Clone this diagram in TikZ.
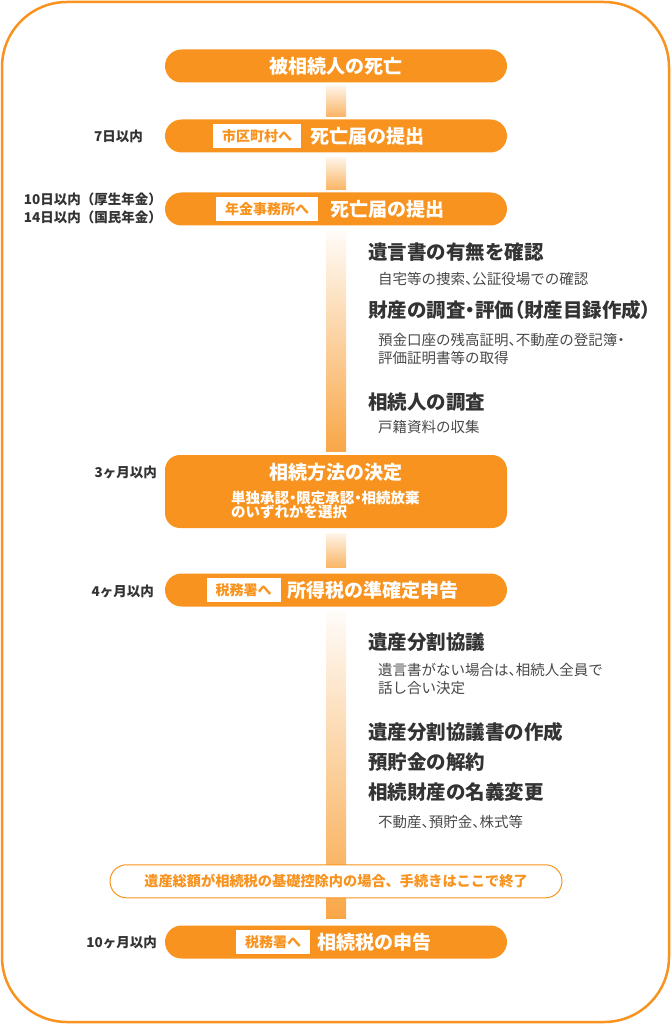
\documentclass[tikz,border=0pt]{standalone}
\usepackage{fontspec}
\setmainfont{Noto Sans CJK JP}
\newfontfamily\propfont[RawFeature=+palt]{Noto Sans CJK JP}
\newcommand{\halfp}[1]{{\propfont #1}}
\usetikzlibrary{positioning,calc}
\definecolor{lorange}{RGB}{247,147,30}
\definecolor{dgray}{RGB}{51,51,51}
\definecolor{mgray}{RGB}{72,72,72}
\tikzstyle{pill} = [rectangle, fill=lorange, text=white, inner sep=0pt,
  minimum width=342pt, minimum height=33pt, rounded corners=16.5pt,
  font=\bfseries\fontsize{19}{22}\selectfont]
\tikzstyle{tag} = [rectangle, fill=white, text=lorange, inner xsep=9pt,
  inner ysep=0pt, minimum height=24pt, font=\bfseries\fontsize{14}{15}\selectfont]
\tikzstyle{pilltext} = [text=white, inner sep=0pt, font=\bfseries\fontsize{19}{22}\selectfont]
\tikzstyle{due} = [anchor=east, text=dgray, inner sep=0pt, align=right,
  font=\bfseries\fontsize{13.5}{18}\selectfont]
\tikzstyle{heading} = [anchor=west, text=dgray, inner sep=0pt,
  font=\bfseries\fontsize{19.5}{22}\selectfont]
\tikzstyle{detail} = [anchor=west, text=mgray, inner sep=0pt, align=left,
  font=\fontsize{14.5}{18}\selectfont]
\tikzstyle{shortbar} = [top color=lorange!10, bottom color=lorange!68]
\tikzstyle{longbar} = [top color=lorange!3, bottom color=lorange!82]

\begin{document}
\begin{tikzpicture}[x=1pt,y=-1pt]

  \useasboundingbox (0,0) rectangle (671,1024);
  \draw [lorange, line width=2.5pt, rounded corners=65pt] (2,2) rectangle (669,1022);

  %%%%%%%%%%%%%%%%%%%%%%%%%%%%%%%%%%%%%%%%%%%%%%%%%%%%%%%%%%%%%%
  %                    DEATH AND NOTICES                       %
  %%%%%%%%%%%%%%%%%%%%%%%%%%%%%%%%%%%%%%%%%%%%%%%%%%%%%%%%%%%%%%

  \node [pill] (death) at (336,66) {被相続人の死亡};

  \node [pill] (city-notice) at (336,136) {};
  \node [tag] (city-notice-tag) at (257,136) {市区町村へ};
  \node [pilltext, right = 9pt of city-notice-tag] (city-notice-text) {死亡届の提出};
  \node [due] (city-notice-due) at (143,136) {7日以内};

  \node [pill] (pension-notice) at (336,209) {};
  \node [tag] (pension-notice-tag) at (267,209) {年金事務所へ};
  \node [pilltext, right = 12pt of pension-notice-tag] (pension-notice-text) {死亡届の提出};
  \node [due] (pension-notice-due) at (162,208) {10日以内（厚生年金）\\14日以内（国民年金）};

  %%%%%%%%%%%%%%%%%%%%%%%%%%%%%%%%%%%%%%%%%%%%%%%%%%%%%%%%%%%%%%
  %                    INVESTIGATION                           %
  %%%%%%%%%%%%%%%%%%%%%%%%%%%%%%%%%%%%%%%%%%%%%%%%%%%%%%%%%%%%%%

  \node [heading] (will-check) at (368,252) {遺言書の有無を確認};
  \node [detail] (will-check-detail) at (378,279) {自宅等の捜索\halfp{、}公証役場での確認};
  \node [heading] (asset-check) at (368,310) {財産の調査\halfp{・}評価\halfp{（}財産目録作成\halfp{）}};
  \node [detail] (asset-check-detail) at (378,349) {預金口座の残高証明\halfp{、}不動産の登記簿\halfp{・}\\評価証明書等の取得};
  \node [heading] (heir-check) at (368,402) {相続人の調査};
  \node [detail] (heir-check-detail) at (378,427) {戸籍資料の収集};

  %%%%%%%%%%%%%%%%%%%%%%%%%%%%%%%%%%%%%%%%%%%%%%%%%%%%%%%%%%%%%%
  %                    DECISION AND INCOME TAX                 %
  %%%%%%%%%%%%%%%%%%%%%%%%%%%%%%%%%%%%%%%%%%%%%%%%%%%%%%%%%%%%%%

  \node [pill, minimum height=73pt, rounded corners=15pt] (decision) at (336,491.5) {};
  \node [pilltext] (decision-text) at (336,472) {相続方法の決定};
  \node [anchor=west, text=white, inner sep=0pt, align=left,
    font=\bfseries\fontsize{14.5}{14.5}\selectfont] (decision-detail) at (231,505)
    {単独承認\halfp{・}限定承認\halfp{・}相続放棄\\のいずれかを選択};
  \node [due] (decision-due) at (157,472) {3ヶ月以内};

  \node [pill] (income-tax) at (336,590) {};
  \node [tag] (income-tax-tag) at (243.5,590) {税務署へ};
  \node [pilltext, right = 7pt of income-tax-tag] (income-tax-text) {所得税の準確定申告};
  \node [due] (income-tax-due) at (154,591) {4ヶ月以内};

  %%%%%%%%%%%%%%%%%%%%%%%%%%%%%%%%%%%%%%%%%%%%%%%%%%%%%%%%%%%%%%
  %                    DIVISION                                %
  %%%%%%%%%%%%%%%%%%%%%%%%%%%%%%%%%%%%%%%%%%%%%%%%%%%%%%%%%%%%%%

  \node [heading] (division) at (368,642) {遺産分割協議};
  \node [detail] (division-detail) at (378,679) {遺言書がない場合は\halfp{、}相続人全員で\\話し合い決定};
  \node [heading] (division-paper) at (368,732) {遺産分割協議書の作成};
  \node [heading] (deposit-close) at (368,762) {預貯金の解約};
  \node [heading] (name-change) at (368,792) {相続財産の名義変更};
  \node [detail] (name-change-detail) at (378,822) {不動産\halfp{、}預貯金\halfp{、}株式等};

  %%%%%%%%%%%%%%%%%%%%%%%%%%%%%%%%%%%%%%%%%%%%%%%%%%%%%%%%%%%%%%
  %                    INHERITANCE TAX                         %
  %%%%%%%%%%%%%%%%%%%%%%%%%%%%%%%%%%%%%%%%%%%%%%%%%%%%%%%%%%%%%%

  \node [pill] (inheritance-tax) at (336,942) {};
  \node [tag] (inheritance-tax-tag) at (273,942) {税務署へ};
  \node [pilltext, right = 7pt of inheritance-tax-tag] (inheritance-tax-text) {相続税の申告};
  \node [due] (inheritance-tax-due) at (157,942) {10ヶ月以内};

  % bars between the steps
  \shade [shortbar] ($(death.south)+(-10,3)$) rectangle ($(city-notice.north)+(10,-3)$);
  \shade [shortbar] ($(city-notice.south)+(-10,5)$) rectangle ($(pension-notice.north)+(10,-3)$);
  \shade [longbar] ($(pension-notice.south)+(-10,5)$) rectangle ($(decision.north)+(10,-3)$);
  \shade [shortbar] ($(decision.south)+(-10,5)$) rectangle ($(income-tax.north)+(10,-6)$);
  \shade [longbar] ($(income-tax.south)+(-10,5)$) rectangle ($(inheritance-tax.north)+(10,-7)$);

  \node [rectangle, draw=lorange, line width=1pt, fill=white, text=lorange,
    minimum width=452pt, minimum height=33pt, rounded corners=16.5pt,
    font=\bfseries\fontsize{14.2}{16}\selectfont,
    above = 27pt of inheritance-tax] (notice) {遺産総額が相続税の基礎控除内の場合、手続きはここで終了};

\end{tikzpicture}
\end{document}
